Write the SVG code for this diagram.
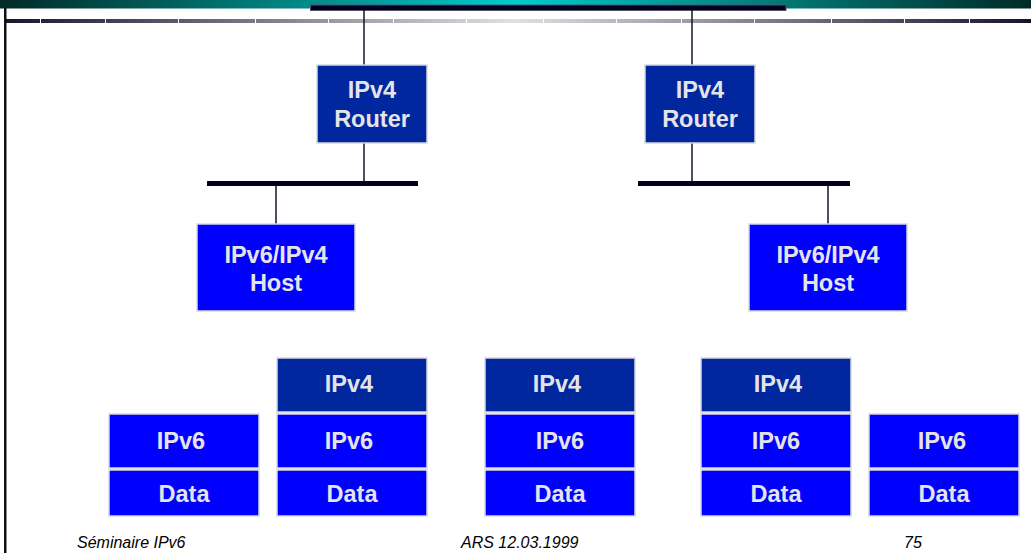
<svg xmlns="http://www.w3.org/2000/svg" width="1031" height="553" viewBox="0 0 1031 553">
<defs>
<linearGradient id="top" x1="0" y1="0" x2="1031" y2="0" gradientUnits="userSpaceOnUse">
<stop offset="0" stop-color="#002a26"/>
<stop offset="0.5" stop-color="#00cccc"/>
<stop offset="1" stop-color="#002a26"/>
</linearGradient>
<linearGradient id="seg" x1="0" y1="0" x2="1031" y2="0" gradientUnits="userSpaceOnUse">
<stop offset="0" stop-color="#14142a"/>
<stop offset="0.5" stop-color="#e2e0e6"/>
<stop offset="1" stop-color="#14142a"/>
</linearGradient>
<style>
.dk{fill:#00279e;stroke:#d8d8e0;stroke-width:1.5}
.bl{fill:#0000ff;stroke:#d8d8e0;stroke-width:1.5}
.t{font-family:"Liberation Sans",Arial,sans-serif;font-weight:bold;font-size:23.5px;fill:#e4e4e8;text-anchor:middle}
.f{font-family:"Liberation Sans",Arial,sans-serif;font-style:italic;font-size:16px;fill:#000}
.ln{stroke:#14142a;stroke-width:1.5;fill:none}
.bus{stroke:#000022;stroke-width:5;fill:none}
</style>
</defs>
<rect x="0" y="0" width="1031" height="553" fill="#fff"/>
<rect x="0" y="0" width="1031" height="8.5" fill="url(#top)"/>
<rect x="5" y="19" width="1026" height="4" fill="url(#seg)"/>
<g stroke="#fff" stroke-width="1">
<line x1="40.5" y1="18" x2="40.5" y2="24"/><line x1="105.5" y1="18" x2="105.5" y2="24"/><line x1="178.5" y1="18" x2="178.5" y2="24"/><line x1="255.5" y1="18" x2="255.5" y2="24"/><line x1="328.5" y1="18" x2="328.5" y2="24"/><line x1="393.5" y1="18" x2="393.5" y2="24"/><line x1="466.5" y1="18" x2="466.5" y2="24"/><line x1="543.5" y1="18" x2="543.5" y2="24"/><line x1="616.5" y1="18" x2="616.5" y2="24"/><line x1="681.5" y1="18" x2="681.5" y2="24"/><line x1="754.5" y1="18" x2="754.5" y2="24"/><line x1="831.5" y1="18" x2="831.5" y2="24"/><line x1="904.5" y1="18" x2="904.5" y2="24"/><line x1="969.5" y1="18" x2="969.5" y2="24"/>
</g>
<rect x="4" y="8" width="2.5" height="545" fill="#111"/>
<rect x="310.5" y="5" width="475.5" height="5.5" fill="#000022" stroke="#555566" stroke-width="1"/>
<g id="connectors">
<line class="ln" x1="364" y1="10" x2="364" y2="65"/>
<line class="ln" x1="692" y1="10" x2="692" y2="65"/>
<line class="ln" x1="364" y1="143" x2="364" y2="183"/>
<line class="ln" x1="692" y1="143" x2="692" y2="183"/>
<line class="bus" x1="207" y1="183.5" x2="418" y2="183.5"/>
<line class="bus" x1="638" y1="183.5" x2="850" y2="183.5"/>
<line class="ln" x1="276" y1="186" x2="276" y2="224"/>
<line class="ln" x1="828" y1="186" x2="828" y2="224"/>
</g>
<g id="router1"><rect class="dk" x="317" y="65" width="110" height="78"/><text class="t" x="372" y="98">IPv4</text><text class="t" x="372" y="127">Router</text></g>
<g id="router2"><rect class="dk" x="645" y="65" width="110" height="78"/><text class="t" x="700" y="98">IPv4</text><text class="t" x="700" y="127">Router</text></g>
<g id="host1"><rect class="bl" x="197" y="224" width="158" height="87"/><text class="t" x="276" y="263">IPv6/IPv4</text><text class="t" x="276" y="291">Host</text></g>
<g id="host2"><rect class="bl" x="749" y="224" width="158" height="87"/><text class="t" x="828" y="263">IPv6/IPv4</text><text class="t" x="828" y="291">Host</text></g>
<g id="stack1">
<rect class="bl" x="109" y="414" width="150" height="54"/><text class="t" x="181" y="449">IPv6</text>
<rect class="bl" x="109" y="470" width="150" height="46"/><text class="t" x="184" y="502">Data</text>
</g>
<g id="stack2">
<rect class="dk" x="277" y="358" width="150" height="54"/><text class="t" x="349" y="392">IPv4</text>
<rect class="bl" x="277" y="414" width="150" height="54"/><text class="t" x="349" y="449">IPv6</text>
<rect class="bl" x="277" y="470" width="150" height="46"/><text class="t" x="352" y="502">Data</text>
</g>
<g id="stack3">
<rect class="dk" x="485" y="358" width="150" height="54"/><text class="t" x="557" y="392">IPv4</text>
<rect class="bl" x="485" y="414" width="150" height="54"/><text class="t" x="560" y="449">IPv6</text>
<rect class="bl" x="485" y="470" width="150" height="46"/><text class="t" x="560" y="502">Data</text>
</g>
<g id="stack4">
<rect class="dk" x="701" y="358" width="150" height="54"/><text class="t" x="778" y="392">IPv4</text>
<rect class="bl" x="701" y="414" width="150" height="54"/><text class="t" x="776" y="449">IPv6</text>
<rect class="bl" x="701" y="470" width="150" height="46"/><text class="t" x="776" y="502">Data</text>
</g>
<g id="stack5">
<rect class="bl" x="869" y="414" width="150" height="54"/><text class="t" x="942" y="449">IPv6</text>
<rect class="bl" x="869" y="470" width="150" height="46"/><text class="t" x="944" y="502">Data</text>
</g>
<text class="f" x="77" y="548">Séminaire IPv6</text>
<text class="f" x="461" y="548">ARS 12.03.1999</text>
<text class="f" x="904" y="548">75</text>
</svg>
